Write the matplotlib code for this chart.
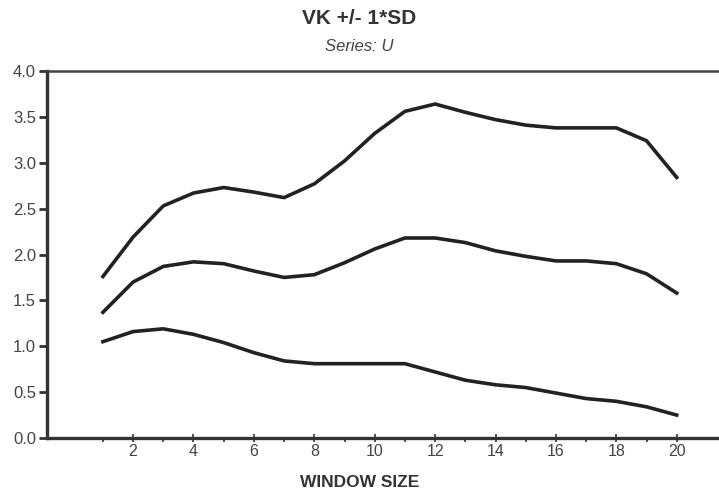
import matplotlib
matplotlib.use("Agg")
import matplotlib.pyplot as plt
from matplotlib.ticker import FixedLocator

window = list(range(1, 21))
upper = [1.76, 2.19, 2.53, 2.67, 2.73, 2.68, 2.62, 2.77, 3.02, 3.32,
         3.56, 3.64, 3.55, 3.47, 3.41, 3.38, 3.38, 3.38, 3.24, 2.84]
mean = [1.37, 1.70, 1.87, 1.92, 1.90, 1.82, 1.75, 1.78, 1.91, 2.06,
        2.18, 2.18, 2.13, 2.04, 1.98, 1.93, 1.93, 1.90, 1.79, 1.58]
lower = [1.05, 1.16, 1.19, 1.13, 1.04, 0.93, 0.84, 0.81, 0.81, 0.81,
         0.81, 0.72, 0.63, 0.58, 0.55, 0.49, 0.43, 0.40, 0.34, 0.25]
xticks_major = [2, 4, 6, 8, 10, 12, 14, 16, 18, 20]
yticks = [0.0, 0.5, 1.0, 1.5, 2.0, 2.5, 3.0, 3.5, 4.0]

plt.rcParams['font.family'] = ['Liberation Sans', 'DejaVu Sans']

fig = plt.figure(figsize=(7.19, 4.90), dpi=100)
ax = fig.add_axes([0.0654, 0.1061, 0.9346, 0.749])

lc = '#222222'
for s in (upper, mean, lower):
    ax.plot(window, s, color=lc, lw=2.6, solid_joinstyle='round')

ax.set_xlim(-0.85, 21.4)
ax.set_ylim(0, 4.0)
ax.xaxis.set_major_locator(FixedLocator(xticks_major))
ax.xaxis.set_minor_locator(FixedLocator(window))
ax.set_yticks(yticks)
ax.set_yticklabels([f"{v:.1f}" for v in yticks])

ax.spines['right'].set_visible(False)
for sp in ('left', 'bottom'):
    ax.spines[sp].set_linewidth(2.4)
    ax.spines[sp].set_color('#333333')
ax.spines['top'].set_linewidth(1.8)
ax.spines['top'].set_color('#444444')

ax.tick_params(axis='y', direction='out', length=6, width=2, colors='#333333',
               labelsize=12, labelcolor='#444444', pad=2)
ax.tick_params(axis='x', which='major', direction='inout', length=6, width=1.2,
               colors='#333333', labelsize=11.5, labelcolor='#444444', pad=1.5)
ax.tick_params(axis='x', which='minor', direction='out', length=3, width=1.2,
               colors='#333333')

fig.text(0.5, 0.962, "VK +/- 1*SD", ha='center', va='center',
         fontsize=15, fontweight='bold', color='#333333')
fig.text(0.5, 0.906, "Series: U", ha='center', va='center',
         fontsize=12, fontstyle='italic', color='#444444')
fig.text(0.5, 0.016, "WINDOW SIZE", ha='center', va='center',
         fontsize=12.5, fontweight='bold', color='#333333')

fig.savefig("out.png", dpi=100, facecolor='white')
